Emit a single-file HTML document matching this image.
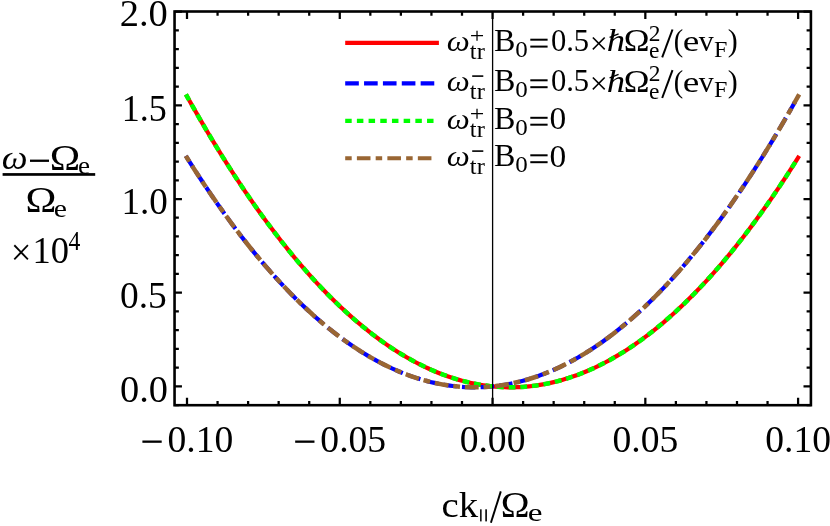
<!DOCTYPE html><html><head><meta charset="utf-8"><style>
html,body{margin:0;padding:0;background:#fff;overflow:hidden}svg{display:block;will-change:transform}text{font-family:"Liberation Serif",serif;fill:#000}.i{font-style:italic}
</style></head><body>
<svg width="830" height="526" viewBox="0 0 830 526">
<rect width="830" height="526" fill="#fff"/>
<g fill="none" stroke-width="4.2" stroke-linecap="square" stroke-linejoin="round">
<path d="M187.00,96.30 L190.06,101.77 L193.11,107.19 L196.17,112.56 L199.22,117.87 L202.28,123.13 L205.33,128.34 L208.39,133.50 L211.44,138.60 L214.50,143.66 L217.56,148.66 L220.61,153.61 L223.67,158.50 L226.72,163.35 L229.78,168.15 L232.83,172.89 L235.89,177.58 L238.94,182.22 L242.00,186.80 L245.05,191.34 L248.11,195.82 L251.17,200.25 L254.22,204.63 L257.28,208.96 L260.33,213.24 L263.39,217.46 L266.44,221.63 L269.50,225.75 L272.55,229.82 L275.61,233.83 L278.66,237.80 L281.72,241.71 L284.78,245.57 L287.83,249.38 L290.89,253.14 L293.94,256.84 L297.00,260.50 L300.05,264.10 L303.11,267.65 L306.16,271.14 L309.22,274.59 L312.28,277.98 L315.33,281.33 L318.39,284.62 L321.44,287.85 L324.50,291.04 L327.55,294.17 L330.61,297.26 L333.66,300.29 L336.72,303.27 L339.77,306.19 L342.83,309.07 L345.89,311.89 L348.94,314.66 L352.00,317.38 L355.05,320.05 L358.11,322.66 L361.16,325.23 L364.22,327.74 L367.27,330.20 L370.33,332.61 L373.39,334.96 L376.44,337.27 L379.50,339.52 L382.55,341.72 L385.61,343.87 L388.66,345.97 L391.72,348.01 L394.77,350.01 L397.83,351.95 L400.88,353.84 L403.94,355.67 L407.00,357.46 L410.05,359.19 L413.11,360.88 L416.16,362.51 L419.22,364.08 L422.27,365.61 L425.33,367.09 L428.38,368.51 L431.44,369.88 L434.50,371.20 L437.55,372.46 L440.61,373.68 L443.66,374.84 L446.72,375.95 L449.77,377.01 L452.83,378.02 L455.88,378.98 L458.94,379.88 L462.00,380.73 L465.05,381.53 L468.11,382.28 L471.16,382.98 L474.22,383.62 L477.27,384.21 L480.33,384.76 L483.38,385.24 L486.44,385.68 L489.49,386.07 L492.55,386.40 L495.61,386.68 L498.66,386.91 L501.72,387.09 L504.77,387.21 L507.83,387.29 L510.88,387.31 L513.94,387.28 L516.99,387.20 L520.05,387.07 L523.11,386.88 L526.16,386.64 L529.22,386.35 L532.27,386.01 L535.33,385.62 L538.38,385.17 L541.44,384.68 L544.49,384.13 L547.55,383.53 L550.60,382.88 L553.66,382.17 L556.72,381.42 L559.77,380.61 L562.83,379.75 L565.88,378.84 L568.94,377.87 L571.99,376.86 L575.05,375.79 L578.10,374.67 L581.16,373.50 L584.22,372.28 L587.27,371.00 L590.33,369.68 L593.38,368.30 L596.44,366.87 L599.49,365.38 L602.55,363.85 L605.60,362.26 L608.66,360.63 L611.71,358.94 L614.77,357.20 L617.83,355.40 L620.88,353.56 L623.94,351.66 L626.99,349.71 L630.05,347.71 L633.10,345.66 L636.16,343.55 L639.21,341.40 L642.27,339.19 L645.33,336.93 L648.38,334.61 L651.44,332.25 L654.49,329.83 L657.55,327.37 L660.60,324.85 L663.66,322.28 L666.71,319.65 L669.77,316.98 L672.82,314.25 L675.88,311.47 L678.94,308.64 L681.99,305.76 L685.05,302.82 L688.10,299.83 L691.16,296.80 L694.21,293.71 L697.27,290.56 L700.32,287.37 L703.38,284.12 L706.44,280.83 L709.49,277.48 L712.55,274.08 L715.60,270.62 L718.66,267.12 L721.71,263.56 L724.77,259.95 L727.82,256.29 L730.88,252.58 L733.93,248.81 L736.99,245.00 L740.05,241.13 L743.10,237.21 L746.16,233.23 L749.21,229.21 L752.27,225.13 L755.32,221.01 L758.38,216.83 L761.43,212.60 L764.49,208.31 L767.55,203.98 L770.60,199.59 L773.66,195.15 L776.71,190.66 L779.77,186.12 L782.82,181.52 L785.88,176.88 L788.93,172.18 L791.99,167.43 L795.04,162.63 L798.10,157.77" stroke="#ff0000"/>
<path d="M187.00,157.77 L190.06,162.63 L193.11,167.43 L196.17,172.18 L199.22,176.88 L202.28,181.52 L205.33,186.12 L208.39,190.66 L211.44,195.15 L214.50,199.59 L217.56,203.98 L220.61,208.31 L223.67,212.60 L226.72,216.83 L229.78,221.01 L232.83,225.13 L235.89,229.21 L238.94,233.23 L242.00,237.21 L245.05,241.13 L248.11,245.00 L251.17,248.81 L254.22,252.58 L257.28,256.29 L260.33,259.95 L263.39,263.56 L266.44,267.12 L269.50,270.62 L272.55,274.08 L275.61,277.48 L278.66,280.83 L281.72,284.12 L284.78,287.37 L287.83,290.56 L290.89,293.71 L293.94,296.80 L297.00,299.83 L300.05,302.82 L303.11,305.76 L306.16,308.64 L309.22,311.47 L312.28,314.25 L315.33,316.98 L318.39,319.65 L321.44,322.28 L324.50,324.85 L327.55,327.37 L330.61,329.83 L333.66,332.25 L336.72,334.61 L339.77,336.93 L342.83,339.19 L345.89,341.40 L348.94,343.55 L352.00,345.66 L355.05,347.71 L358.11,349.71 L361.16,351.66 L364.22,353.56 L367.27,355.40 L370.33,357.20 L373.39,358.94 L376.44,360.63 L379.50,362.26 L382.55,363.85 L385.61,365.38 L388.66,366.87 L391.72,368.30 L394.77,369.68 L397.83,371.00 L400.88,372.28 L403.94,373.50 L407.00,374.67 L410.05,375.79 L413.11,376.86 L416.16,377.87 L419.22,378.84 L422.27,379.75 L425.33,380.61 L428.38,381.42 L431.44,382.17 L434.50,382.88 L437.55,383.53 L440.61,384.13 L443.66,384.68 L446.72,385.17 L449.77,385.62 L452.83,386.01 L455.88,386.35 L458.94,386.64 L462.00,386.88 L465.05,387.07 L468.11,387.20 L471.16,387.28 L474.22,387.31 L477.27,387.29 L480.33,387.21 L483.38,387.09 L486.44,386.91 L489.49,386.68 L492.55,386.40 L495.61,386.07 L498.66,385.68 L501.72,385.24 L504.77,384.76 L507.83,384.21 L510.88,383.62 L513.94,382.98 L516.99,382.28 L520.05,381.53 L523.11,380.73 L526.16,379.88 L529.22,378.98 L532.27,378.02 L535.33,377.01 L538.38,375.95 L541.44,374.84 L544.49,373.68 L547.55,372.46 L550.60,371.20 L553.66,369.88 L556.72,368.51 L559.77,367.09 L562.83,365.61 L565.88,364.08 L568.94,362.51 L571.99,360.88 L575.05,359.19 L578.10,357.46 L581.16,355.67 L584.22,353.84 L587.27,351.95 L590.33,350.01 L593.38,348.01 L596.44,345.97 L599.49,343.87 L602.55,341.72 L605.60,339.52 L608.66,337.27 L611.71,334.96 L614.77,332.61 L617.83,330.20 L620.88,327.74 L623.94,325.23 L626.99,322.66 L630.05,320.05 L633.10,317.38 L636.16,314.66 L639.21,311.89 L642.27,309.07 L645.33,306.19 L648.38,303.27 L651.44,300.29 L654.49,297.26 L657.55,294.17 L660.60,291.04 L663.66,287.85 L666.71,284.62 L669.77,281.33 L672.82,277.98 L675.88,274.59 L678.94,271.14 L681.99,267.65 L685.05,264.10 L688.10,260.50 L691.16,256.84 L694.21,253.14 L697.27,249.38 L700.32,245.57 L703.38,241.71 L706.44,237.80 L709.49,233.83 L712.55,229.82 L715.60,225.75 L718.66,221.63 L721.71,217.46 L724.77,213.24 L727.82,208.96 L730.88,204.63 L733.93,200.25 L736.99,195.82 L740.05,191.34 L743.10,186.80 L746.16,182.22 L749.21,177.58 L752.27,172.89 L755.32,168.15 L758.38,163.35 L761.43,158.50 L764.49,153.61 L767.55,148.66 L770.60,143.66 L773.66,138.60 L776.71,133.50 L779.77,128.34 L782.82,123.13 L785.88,117.87 L788.93,112.56 L791.99,107.19 L795.04,101.77 L798.10,96.30" stroke="#0000ff" stroke-dasharray="9.3172 9.3172"/>
<path d="M187.00,96.30 L190.06,101.77 L193.11,107.19 L196.17,112.56 L199.22,117.87 L202.28,123.13 L205.33,128.34 L208.39,133.50 L211.44,138.60 L214.50,143.66 L217.56,148.66 L220.61,153.61 L223.67,158.50 L226.72,163.35 L229.78,168.15 L232.83,172.89 L235.89,177.58 L238.94,182.22 L242.00,186.80 L245.05,191.34 L248.11,195.82 L251.17,200.25 L254.22,204.63 L257.28,208.96 L260.33,213.24 L263.39,217.46 L266.44,221.63 L269.50,225.75 L272.55,229.82 L275.61,233.83 L278.66,237.80 L281.72,241.71 L284.78,245.57 L287.83,249.38 L290.89,253.14 L293.94,256.84 L297.00,260.50 L300.05,264.10 L303.11,267.65 L306.16,271.14 L309.22,274.59 L312.28,277.98 L315.33,281.33 L318.39,284.62 L321.44,287.85 L324.50,291.04 L327.55,294.17 L330.61,297.26 L333.66,300.29 L336.72,303.27 L339.77,306.19 L342.83,309.07 L345.89,311.89 L348.94,314.66 L352.00,317.38 L355.05,320.05 L358.11,322.66 L361.16,325.23 L364.22,327.74 L367.27,330.20 L370.33,332.61 L373.39,334.96 L376.44,337.27 L379.50,339.52 L382.55,341.72 L385.61,343.87 L388.66,345.97 L391.72,348.01 L394.77,350.01 L397.83,351.95 L400.88,353.84 L403.94,355.67 L407.00,357.46 L410.05,359.19 L413.11,360.88 L416.16,362.51 L419.22,364.08 L422.27,365.61 L425.33,367.09 L428.38,368.51 L431.44,369.88 L434.50,371.20 L437.55,372.46 L440.61,373.68 L443.66,374.84 L446.72,375.95 L449.77,377.01 L452.83,378.02 L455.88,378.98 L458.94,379.88 L462.00,380.73 L465.05,381.53 L468.11,382.28 L471.16,382.98 L474.22,383.62 L477.27,384.21 L480.33,384.76 L483.38,385.24 L486.44,385.68 L489.49,386.07 L492.55,386.40 L495.61,386.68 L498.66,386.91 L501.72,387.09 L504.77,387.21 L507.83,387.29 L510.88,387.31 L513.94,387.28 L516.99,387.20 L520.05,387.07 L523.11,386.88 L526.16,386.64 L529.22,386.35 L532.27,386.01 L535.33,385.62 L538.38,385.17 L541.44,384.68 L544.49,384.13 L547.55,383.53 L550.60,382.88 L553.66,382.17 L556.72,381.42 L559.77,380.61 L562.83,379.75 L565.88,378.84 L568.94,377.87 L571.99,376.86 L575.05,375.79 L578.10,374.67 L581.16,373.50 L584.22,372.28 L587.27,371.00 L590.33,369.68 L593.38,368.30 L596.44,366.87 L599.49,365.38 L602.55,363.85 L605.60,362.26 L608.66,360.63 L611.71,358.94 L614.77,357.20 L617.83,355.40 L620.88,353.56 L623.94,351.66 L626.99,349.71 L630.05,347.71 L633.10,345.66 L636.16,343.55 L639.21,341.40 L642.27,339.19 L645.33,336.93 L648.38,334.61 L651.44,332.25 L654.49,329.83 L657.55,327.37 L660.60,324.85 L663.66,322.28 L666.71,319.65 L669.77,316.98 L672.82,314.25 L675.88,311.47 L678.94,308.64 L681.99,305.76 L685.05,302.82 L688.10,299.83 L691.16,296.80 L694.21,293.71 L697.27,290.56 L700.32,287.37 L703.38,284.12 L706.44,280.83 L709.49,277.48 L712.55,274.08 L715.60,270.62 L718.66,267.12 L721.71,263.56 L724.77,259.95 L727.82,256.29 L730.88,252.58 L733.93,248.81 L736.99,245.00 L740.05,241.13 L743.10,237.21 L746.16,233.23 L749.21,229.21 L752.27,225.13 L755.32,221.01 L758.38,216.83 L761.43,212.60 L764.49,208.31 L767.55,203.98 L770.60,199.59 L773.66,195.15 L776.71,190.66 L779.77,186.12 L782.82,181.52 L785.88,176.88 L788.93,172.18 L791.99,167.43 L795.04,162.63 L798.10,157.77" stroke="#00ff00" stroke-width="4.5" stroke-dasharray="2.2845 9.3745"/>
<path d="M187.00,157.77 L190.06,162.63 L193.11,167.43 L196.17,172.18 L199.22,176.88 L202.28,181.52 L205.33,186.12 L208.39,190.66 L211.44,195.15 L214.50,199.59 L217.56,203.98 L220.61,208.31 L223.67,212.60 L226.72,216.83 L229.78,221.01 L232.83,225.13 L235.89,229.21 L238.94,233.23 L242.00,237.21 L245.05,241.13 L248.11,245.00 L251.17,248.81 L254.22,252.58 L257.28,256.29 L260.33,259.95 L263.39,263.56 L266.44,267.12 L269.50,270.62 L272.55,274.08 L275.61,277.48 L278.66,280.83 L281.72,284.12 L284.78,287.37 L287.83,290.56 L290.89,293.71 L293.94,296.80 L297.00,299.83 L300.05,302.82 L303.11,305.76 L306.16,308.64 L309.22,311.47 L312.28,314.25 L315.33,316.98 L318.39,319.65 L321.44,322.28 L324.50,324.85 L327.55,327.37 L330.61,329.83 L333.66,332.25 L336.72,334.61 L339.77,336.93 L342.83,339.19 L345.89,341.40 L348.94,343.55 L352.00,345.66 L355.05,347.71 L358.11,349.71 L361.16,351.66 L364.22,353.56 L367.27,355.40 L370.33,357.20 L373.39,358.94 L376.44,360.63 L379.50,362.26 L382.55,363.85 L385.61,365.38 L388.66,366.87 L391.72,368.30 L394.77,369.68 L397.83,371.00 L400.88,372.28 L403.94,373.50 L407.00,374.67 L410.05,375.79 L413.11,376.86 L416.16,377.87 L419.22,378.84 L422.27,379.75 L425.33,380.61 L428.38,381.42 L431.44,382.17 L434.50,382.88 L437.55,383.53 L440.61,384.13 L443.66,384.68 L446.72,385.17 L449.77,385.62 L452.83,386.01 L455.88,386.35 L458.94,386.64 L462.00,386.88 L465.05,387.07 L468.11,387.20 L471.16,387.28 L474.22,387.31 L477.27,387.29 L480.33,387.21 L483.38,387.09 L486.44,386.91 L489.49,386.68 L492.55,386.40 L495.61,386.07 L498.66,385.68 L501.72,385.24 L504.77,384.76 L507.83,384.21 L510.88,383.62 L513.94,382.98 L516.99,382.28 L520.05,381.53 L523.11,380.73 L526.16,379.88 L529.22,378.98 L532.27,378.02 L535.33,377.01 L538.38,375.95 L541.44,374.84 L544.49,373.68 L547.55,372.46 L550.60,371.20 L553.66,369.88 L556.72,368.51 L559.77,367.09 L562.83,365.61 L565.88,364.08 L568.94,362.51 L571.99,360.88 L575.05,359.19 L578.10,357.46 L581.16,355.67 L584.22,353.84 L587.27,351.95 L590.33,350.01 L593.38,348.01 L596.44,345.97 L599.49,343.87 L602.55,341.72 L605.60,339.52 L608.66,337.27 L611.71,334.96 L614.77,332.61 L617.83,330.20 L620.88,327.74 L623.94,325.23 L626.99,322.66 L630.05,320.05 L633.10,317.38 L636.16,314.66 L639.21,311.89 L642.27,309.07 L645.33,306.19 L648.38,303.27 L651.44,300.29 L654.49,297.26 L657.55,294.17 L660.60,291.04 L663.66,287.85 L666.71,284.62 L669.77,281.33 L672.82,277.98 L675.88,274.59 L678.94,271.14 L681.99,267.65 L685.05,264.10 L688.10,260.50 L691.16,256.84 L694.21,253.14 L697.27,249.38 L700.32,245.57 L703.38,241.71 L706.44,237.80 L709.49,233.83 L712.55,229.82 L715.60,225.75 L718.66,221.63 L721.71,217.46 L724.77,213.24 L727.82,208.96 L730.88,204.63 L733.93,200.25 L736.99,195.82 L740.05,191.34 L743.10,186.80 L746.16,182.22 L749.21,177.58 L752.27,172.89 L755.32,168.15 L758.38,163.35 L761.43,158.50 L764.49,153.61 L767.55,148.66 L770.60,143.66 L773.66,138.60 L776.71,133.50 L779.77,128.34 L782.82,123.13 L785.88,117.87 L788.93,112.56 L791.99,107.19 L795.04,101.77 L798.10,96.30" stroke="#996633" stroke-width="4.5" stroke-dasharray="2.2845 9.3521 9.3521 9.3521"/>
<path d="M347.3,42.8H436.8" stroke="#ff0000"/>
<path d="M347.3,83.4H436.8" stroke="#0000ff" stroke-dasharray="9.43 9.43"/>
<path d="M347.3,120.8H436.8" stroke="#00ff00" stroke-dasharray="2.295 9.395"/>
<path d="M347.3,158.25H436.8" stroke="#996633" stroke-dasharray="2.295 9.395 9.395 9.395"/>
</g>
<line x1="492.60" y1="11.5" x2="492.60" y2="405.2" stroke="#000" stroke-width="1.3"/>
<rect x="174.55" y="11.5" width="636.35" height="393.70" fill="none" stroke="#000" stroke-width="2.6"/>
<path d="M187.00,405.2v-7.4M187.00,11.5v7.4M217.56,405.2v-4.3M217.56,11.5v4.3M248.11,405.2v-4.3M248.11,11.5v4.3M278.66,405.2v-4.3M278.66,11.5v4.3M309.22,405.2v-4.3M309.22,11.5v4.3M339.77,405.2v-7.4M339.77,11.5v7.4M370.33,405.2v-4.3M370.33,11.5v4.3M400.88,405.2v-4.3M400.88,11.5v4.3M431.44,405.2v-4.3M431.44,11.5v4.3M462.00,405.2v-4.3M462.00,11.5v4.3M492.55,405.2v-7.4M492.55,11.5v7.4M523.11,405.2v-4.3M523.11,11.5v4.3M553.66,405.2v-4.3M553.66,11.5v4.3M584.22,405.2v-4.3M584.22,11.5v4.3M614.77,405.2v-4.3M614.77,11.5v4.3M645.33,405.2v-7.4M645.33,11.5v7.4M675.88,405.2v-4.3M675.88,11.5v4.3M706.44,405.2v-4.3M706.44,11.5v4.3M736.99,405.2v-4.3M736.99,11.5v4.3M767.55,405.2v-4.3M767.55,11.5v4.3M798.10,405.2v-7.4M798.10,11.5v7.4M174.55,405.14h4.3M810.9,405.14h-4.3M174.55,386.40h7.4M810.9,386.40h-7.4M174.55,367.66h4.3M810.9,367.66h-4.3M174.55,348.92h4.3M810.9,348.92h-4.3M174.55,330.18h4.3M810.9,330.18h-4.3M174.55,311.44h4.3M810.9,311.44h-4.3M174.55,292.70h7.4M810.9,292.70h-7.4M174.55,273.96h4.3M810.9,273.96h-4.3M174.55,255.22h4.3M810.9,255.22h-4.3M174.55,236.48h4.3M810.9,236.48h-4.3M174.55,217.74h4.3M810.9,217.74h-4.3M174.55,199.00h7.4M810.9,199.00h-7.4M174.55,180.26h4.3M810.9,180.26h-4.3M174.55,161.52h4.3M810.9,161.52h-4.3M174.55,142.78h4.3M810.9,142.78h-4.3M174.55,124.04h4.3M810.9,124.04h-4.3M174.55,105.30h7.4M810.9,105.30h-7.4M174.55,86.56h4.3M810.9,86.56h-4.3M174.55,67.82h4.3M810.9,67.82h-4.3M174.55,49.08h4.3M810.9,49.08h-4.3M174.55,30.34h4.3M810.9,30.34h-4.3M174.55,11.60h7.4M810.9,11.60h-7.4" stroke="#000" stroke-width="2.25" fill="none"/>
<text transform="translate(119.94,401.80) scale(1.0218,1.0250)" font-size="37.6">0.0</text>
<text transform="translate(119.97,307.60) scale(0.9955,1.0250)" font-size="37.6">0.5</text>
<text transform="translate(121.54,214.10) scale(0.9867,1.0250)" font-size="37.6">1.0</text>
<text transform="translate(121.63,120.50) scale(0.9591,1.0250)" font-size="37.6">1.5</text>
<text transform="translate(119.71,25.90) scale(1.0247,1.0250)" font-size="37.6">2.0</text>
<rect x="142.40" y="440.50" width="19.30" height="2.30" fill="#000"/>
<text transform="translate(167.57,451.50) scale(1.0000,1.0200)" font-size="37.6">0.10</text>
<rect x="295.17" y="440.50" width="19.30" height="2.30" fill="#000"/>
<text transform="translate(320.34,451.50) scale(1.0000,1.0200)" font-size="37.6">0.05</text>
<text transform="translate(459.65,451.50) scale(1.0000,1.0200)" font-size="37.6">0.00</text>
<text transform="translate(612.44,451.50) scale(1.0000,1.0200)" font-size="37.6">0.05</text>
<text transform="translate(765.20,451.50) scale(1.0000,1.0200)" font-size="37.6">0.10</text>
<text transform="translate(1.79,169.40) scale(0.9726,0.9200)" font-size="37.6" class="i">ω</text>
<rect x="30.00" y="159.60" width="19.00" height="2.30" fill="#000"/>
<text transform="translate(49.68,169.50) scale(1.0894,0.9650)" font-size="37.6">Ω</text>
<text transform="translate(77.94,174.00) scale(1.0196,0.9700)" font-size="26.5">e</text>
<rect x="2.60" y="173.10" width="92.60" height="2.70" fill="#000"/>
<text transform="translate(25.45,211.50) scale(1.1060,0.9550)" font-size="37.6">Ω</text>
<text transform="translate(53.84,216.90) scale(1.1215,0.9700)" font-size="26.5">e</text>
<text transform="translate(10.80,265.40) scale(0.9743,1.0000)" font-size="37.6">×</text>
<text transform="translate(32.49,263.10) scale(0.9707,1.0000)" font-size="37.6">10</text>
<text transform="translate(68.54,250.20) scale(0.8930,1.0000)" font-size="26.5">4</text>
<text transform="translate(441.52,516.50) scale(1.0306,0.9500)" font-size="37.6">ck</text>
<rect x="480.10" y="509.30" width="1.50" height="12.10" fill="#000"/>
<rect x="485.30" y="509.30" width="1.60" height="12.10" fill="#000"/>
<path d="M490.9,522.8L500.8,491.4" stroke="#000" stroke-width="1.95" fill="none"/>
<text transform="translate(500.69,516.50) scale(1.0312,0.9500)" font-size="37.6">Ω</text>
<text transform="translate(527.70,521.00) scale(1.2541,0.9700)" font-size="26.5">e</text>
<text transform="translate(446.72,50.50) scale(1.0030,0.9300)" font-size="32.5" class="i">ω</text>
<text transform="translate(469.72,42.60) scale(1.1116,0.8600)" font-size="23.2">+</text>
<text transform="translate(469.86,58.60) scale(1.0552,1.0000)" font-size="23.2">tr</text>
<text transform="translate(493.88,50.80) scale(0.9867,1.0000)" font-size="32.5">B</text>
<text transform="translate(515.35,56.70) scale(1.0780,1.0200)" font-size="23.2">0</text>
<rect x="530.30" y="38.70" width="17.30" height="2.00" fill="#000"/>
<rect x="530.30" y="45.60" width="17.30" height="2.00" fill="#000"/>
<text transform="translate(550.93,50.80) scale(0.9418,1.0000)" font-size="32.5">0.5</text>
<text transform="translate(589.67,53.80) scale(0.9834,1.0000)" font-size="32.5">×</text>
<text transform="translate(606.77,51.10) scale(1.1292,1.0000)" font-size="32.5" class="i">h</text>
<path d="M609.6,37.30L618.6,33.80" stroke="#000" stroke-width="1.4" fill="none"/>
<text transform="translate(623.70,51.00) scale(1.0679,1.0000)" font-size="32.5">Ω</text>
<text transform="translate(648.77,40.80) scale(1.0107,1.0000)" font-size="23.2">2</text>
<text transform="translate(649.08,58.00) scale(1.0132,1.0000)" font-size="23.2">e</text>
<path d="M662.2,57.40L672.5,29.50" stroke="#000" stroke-width="2.0" fill="none"/>
<text transform="translate(673.65,51.30) scale(0.8745,0.9500)" font-size="32.5">(</text>
<text transform="translate(682.84,51.00) scale(1.1472,0.9300)" font-size="32.5">e</text>
<text transform="translate(698.80,51.00) scale(0.9169,0.9300)" font-size="32.5">v</text>
<text transform="translate(714.01,56.70) scale(1.0354,1.0000)" font-size="23.2">F</text>
<text transform="translate(727.73,51.30) scale(0.9225,0.9500)" font-size="32.5">)</text>
<text transform="translate(446.72,91.10) scale(1.0030,0.9300)" font-size="32.5" class="i">ω</text>
<rect x="472.20" y="75.30" width="11.10" height="1.60" fill="#000"/>
<text transform="translate(469.86,99.20) scale(1.0552,1.0000)" font-size="23.2">tr</text>
<text transform="translate(493.88,91.40) scale(0.9867,1.0000)" font-size="32.5">B</text>
<text transform="translate(515.35,97.30) scale(1.0780,1.0200)" font-size="23.2">0</text>
<rect x="530.30" y="79.30" width="17.30" height="2.00" fill="#000"/>
<rect x="530.30" y="86.20" width="17.30" height="2.00" fill="#000"/>
<text transform="translate(550.93,91.40) scale(0.9418,1.0000)" font-size="32.5">0.5</text>
<text transform="translate(589.67,94.40) scale(0.9834,1.0000)" font-size="32.5">×</text>
<text transform="translate(606.77,91.70) scale(1.1292,1.0000)" font-size="32.5" class="i">h</text>
<path d="M609.6,77.90L618.6,74.40" stroke="#000" stroke-width="1.4" fill="none"/>
<text transform="translate(623.70,91.60) scale(1.0679,1.0000)" font-size="32.5">Ω</text>
<text transform="translate(648.77,81.40) scale(1.0107,1.0000)" font-size="23.2">2</text>
<text transform="translate(649.08,98.60) scale(1.0132,1.0000)" font-size="23.2">e</text>
<path d="M662.2,98.00L672.5,70.10" stroke="#000" stroke-width="2.0" fill="none"/>
<text transform="translate(673.65,91.90) scale(0.8745,0.9500)" font-size="32.5">(</text>
<text transform="translate(682.84,91.60) scale(1.1472,0.9300)" font-size="32.5">e</text>
<text transform="translate(698.80,91.60) scale(0.9169,0.9300)" font-size="32.5">v</text>
<text transform="translate(714.01,97.30) scale(1.0354,1.0000)" font-size="23.2">F</text>
<text transform="translate(727.73,91.90) scale(0.9225,0.9500)" font-size="32.5">)</text>
<text transform="translate(446.72,128.60) scale(1.0030,0.9300)" font-size="32.5" class="i">ω</text>
<text transform="translate(469.72,120.70) scale(1.1116,0.8600)" font-size="23.2">+</text>
<text transform="translate(469.86,136.70) scale(1.0552,1.0000)" font-size="23.2">tr</text>
<text transform="translate(493.88,128.90) scale(0.9867,1.0000)" font-size="32.5">B</text>
<text transform="translate(515.35,134.80) scale(1.0780,1.0200)" font-size="23.2">0</text>
<rect x="530.30" y="116.80" width="17.30" height="2.00" fill="#000"/>
<rect x="530.30" y="123.70" width="17.30" height="2.00" fill="#000"/>
<text transform="translate(549.62,129.20) scale(1.0309,1.0000)" font-size="32.5">0</text>
<text transform="translate(446.72,166.10) scale(1.0030,0.9300)" font-size="32.5" class="i">ω</text>
<rect x="472.20" y="150.30" width="11.10" height="1.60" fill="#000"/>
<text transform="translate(469.86,174.20) scale(1.0552,1.0000)" font-size="23.2">tr</text>
<text transform="translate(493.88,166.40) scale(0.9867,1.0000)" font-size="32.5">B</text>
<text transform="translate(515.35,172.30) scale(1.0780,1.0200)" font-size="23.2">0</text>
<rect x="530.30" y="154.30" width="17.30" height="2.00" fill="#000"/>
<rect x="530.30" y="161.20" width="17.30" height="2.00" fill="#000"/>
<text transform="translate(549.62,166.70) scale(1.0309,1.0000)" font-size="32.5">0</text>
</svg></body></html>
